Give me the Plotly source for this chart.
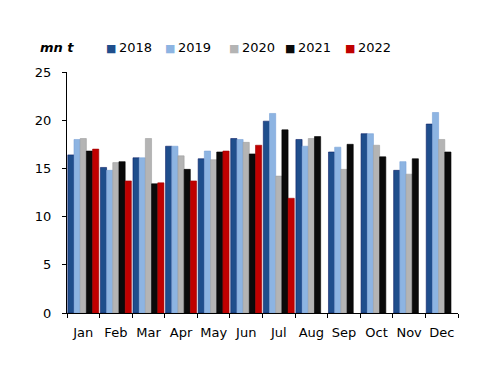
import plotly.graph_objects as go

months = ["Jan", "Feb", "Mar", "Apr", "May", "Jun", "Jul", "Aug", "Sep", "Oct", "Nov", "Dec"]
v2018 = [16.4, 15.1, 16.1, 17.3, 16.0, 18.1, 19.9, 18.0, 16.7, 18.6, 14.8, 19.6]
v2019 = [18.0, 14.8, 16.1, 17.3, 16.8, 18.0, 20.7, 17.3, 17.2, 18.6, 15.7, 20.8]
v2020 = [18.1, 15.6, 18.1, 16.3, 15.9, 17.7, 14.2, 18.1, 14.9, 17.4, 14.4, 18.0]
v2021 = [16.8, 15.7, 13.4, 14.9, 16.7, 16.5, 19.0, 18.3, 17.5, 16.2, 16.0, 16.7]
v2022 = [17.0, 13.7, 13.5, 13.7, 16.8, 17.4, 11.9, None, None, None, None, None]

series = [
    ("2018", v2018, "#1F4E8C", "#0B1F66"),
    ("2019", v2019, "#8DB4E2", "#7BA3D6"),
    ("2020", v2020, "#B4B4B4", "#A0A0A0"),
    ("2021", v2021, "#0A0A0A", "#000000"),
    ("2022", v2022, "#C00000", "#A00000"),
]
legend_x = [0.0946, 0.2455, 0.409, 0.5524, 0.7059]

fig = go.Figure()
for name, vals, col, edge in series:
    fig.add_trace(go.Bar(
        x=months, y=vals, name=name,
        marker=dict(color=col, line=dict(color=edge, width=0.6)),
    ))

annotations = [dict(text="<b><i>mn t</i></b>", xref="paper", yref="paper",
                    x=-0.0742, y=1.0996, xanchor="left", yanchor="middle",
                    showarrow=False, font=dict(family="DejaVu Sans", size=13, color="#000"))]
for (name, vals, col, edge), lx in zip(series, legend_x):
    annotations.append(dict(
        text=f'<span style="color:{col};font-size:11px">■</span>&#8201;{name}',
        xref="paper", yref="paper", x=lx, y=1.0996, xanchor="left", yanchor="middle",
        showarrow=False, font=dict(family="DejaVu Sans", size=13, color="#000")))

fig.update_layout(
    width=500, height=386,
    margin=dict(l=59, r=50, t=64, b=81, autoexpand=False),
    paper_bgcolor="white", plot_bgcolor="white",
    barmode="group", bargap=0.05, bargroupgap=0,
    font=dict(family="DejaVu Sans", size=13, color="#000000"),
    showlegend=False,
    xaxis=dict(showline=True, linecolor="#000", linewidth=1, ticks="outside",
               tickson="boundaries", ticklen=4, tickcolor="#000", tickangle=0,
               showgrid=False, automargin=False, ticklabelstandoff=7,
               tickfont=dict(family="DejaVu Sans", size=13)),
    yaxis=dict(range=[0, 25], dtick=5, showline=True, linecolor="#000", linewidth=1,
               ticks="outside", ticklen=4, tickcolor="#000", showgrid=False,
               zeroline=False, automargin=False, ticklabelstandoff=8,
               tickfont=dict(family="DejaVu Sans", size=13)),
    annotations=annotations,
)

fig.write_html("out.html")
